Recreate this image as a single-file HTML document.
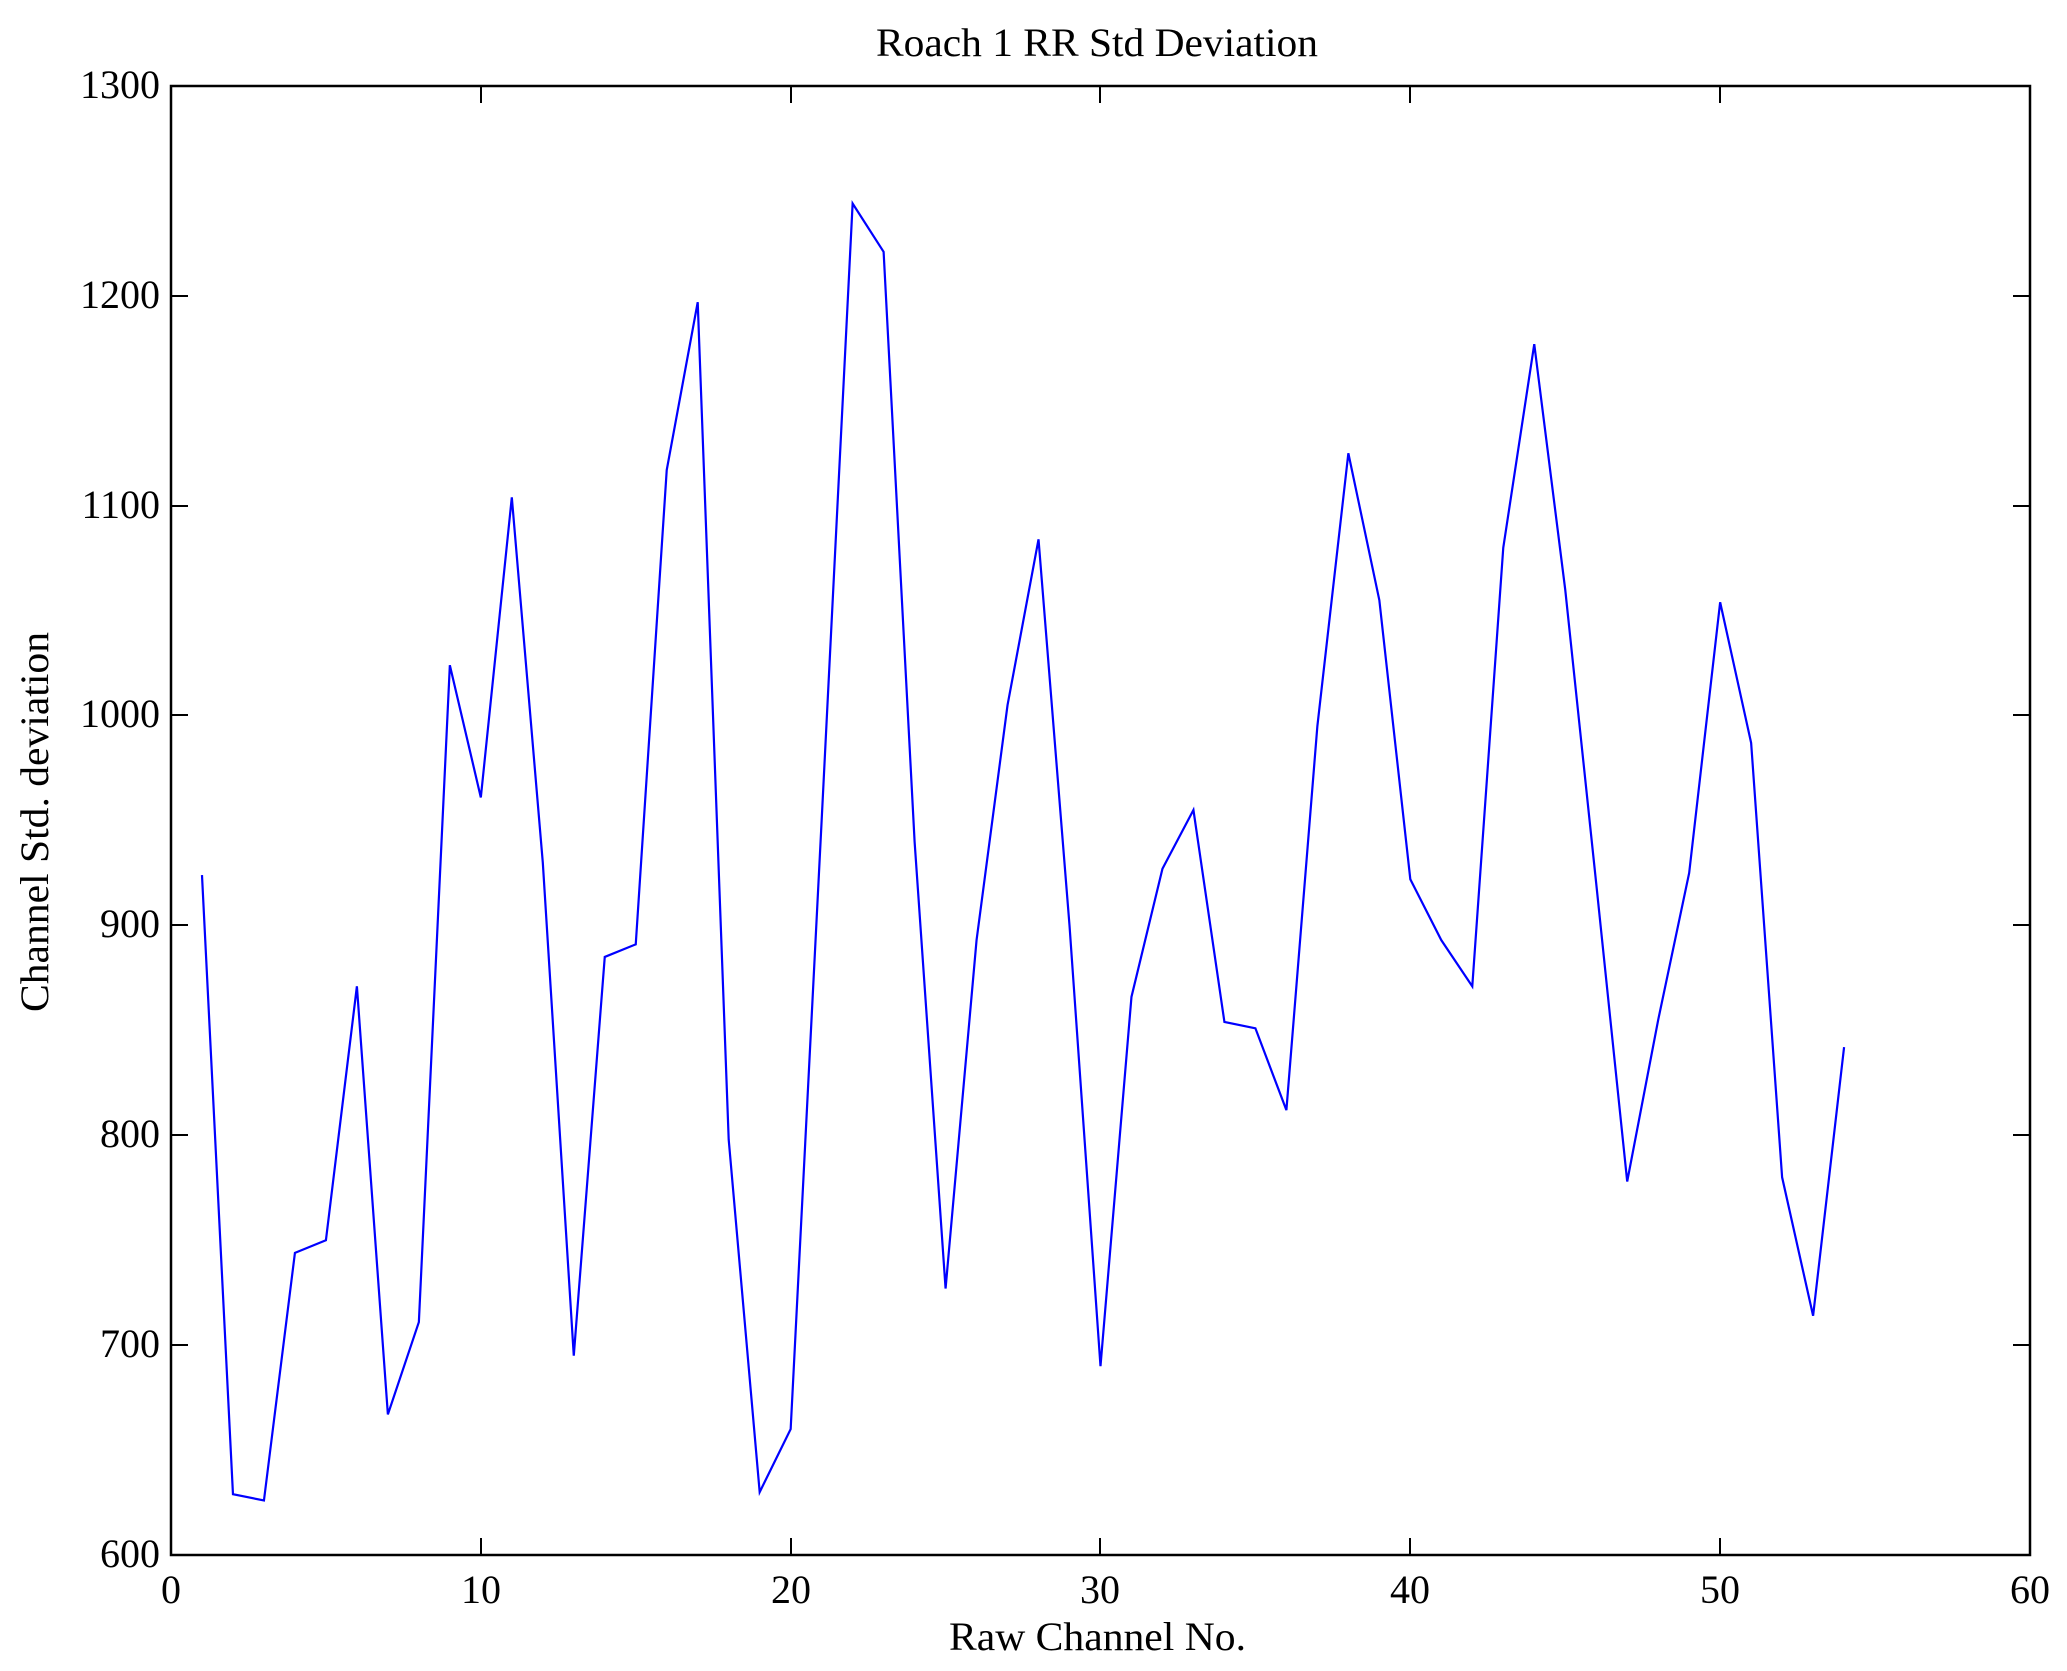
<!DOCTYPE html>
<html><head><meta charset="utf-8"><style>html,body{margin:0;padding:0;background:#fff}svg{display:block}</style></head>
<body>
<svg width="2067" height="1671" viewBox="0 0 2067 1671" xmlns="http://www.w3.org/2000/svg" font-family="Liberation Serif, serif">
<rect width="2067" height="1671" fill="#fff"/>
<g transform="translate(171,2814.2) scale(30.983,-2.0986)">
<polyline fill="none" stroke="#0000ff" stroke-width="2.2" vector-effect="non-scaling-stroke" stroke-linejoin="miter"
points="1,924 2,629 3,626 4,744 5,750 6,871 7,667 8,711 9,1024 10,961 11,1104 12,930 13,695 14,885 15,891 16,1117 17,1197 18,798 19,630 20,660 21,950 22,1244 23,1221 24,940 25,727 26,893 27,1005 28,1084 29,900 30,690 31,866 32,927 33,955 34,854 35,851 36,812 37,995 38,1125 39,1055 40,922 41,893 42,871 43,1080 44,1177 45,1060 46,920 47,778 48,855 49,925 50,1054 51,987 52,780 53,714 54,842"/>
</g>
<rect x="171" y="86" width="1859" height="1469" fill="none" stroke="#000" stroke-width="2.5"/>
<g stroke="#000" stroke-width="2">
<path d="M481,1555v-17M481,86v17M791,1555v-17M791,86v17M1100,1555v-17M1100,86v17M1410,1555v-17M1410,86v17M1720,1555v-17M1720,86v17"/>
<path d="M171,1345h17M2030,1345h-17M171,1135h17M2030,1135h-17M171,925h17M2030,925h-17M171,715h17M2030,715h-17M171,506h17M2030,506h-17M171,296h17M2030,296h-17"/>
</g>
<g font-size="40" fill="#000">
<g text-anchor="middle">
<text x="171" y="1603">0</text>
<text x="481" y="1603">10</text>
<text x="791" y="1603">20</text>
<text x="1100" y="1603">30</text>
<text x="1410" y="1603">40</text>
<text x="1720" y="1603">50</text>
<text x="2030" y="1603">60</text>
</g>
<g text-anchor="end">
<text x="160" y="1567">600</text>
<text x="160" y="1357">700</text>
<text x="160" y="1147">800</text>
<text x="160" y="937">900</text>
<text x="160" y="727">1000</text>
<text x="160" y="518">1100</text>
<text x="160" y="308">1200</text>
<text x="160" y="98">1300</text>
</g>
<text x="1097" y="56" text-anchor="middle" textLength="442" lengthAdjust="spacingAndGlyphs">Roach 1 RR Std Deviation</text>
<text x="949" y="1650" textLength="297" lengthAdjust="spacingAndGlyphs">Raw Channel No.</text>
<text transform="translate(48,1012) rotate(-90)" x="0" y="0" textLength="380" lengthAdjust="spacingAndGlyphs">Channel Std. deviation</text>
</g>
</svg>
</body></html>
